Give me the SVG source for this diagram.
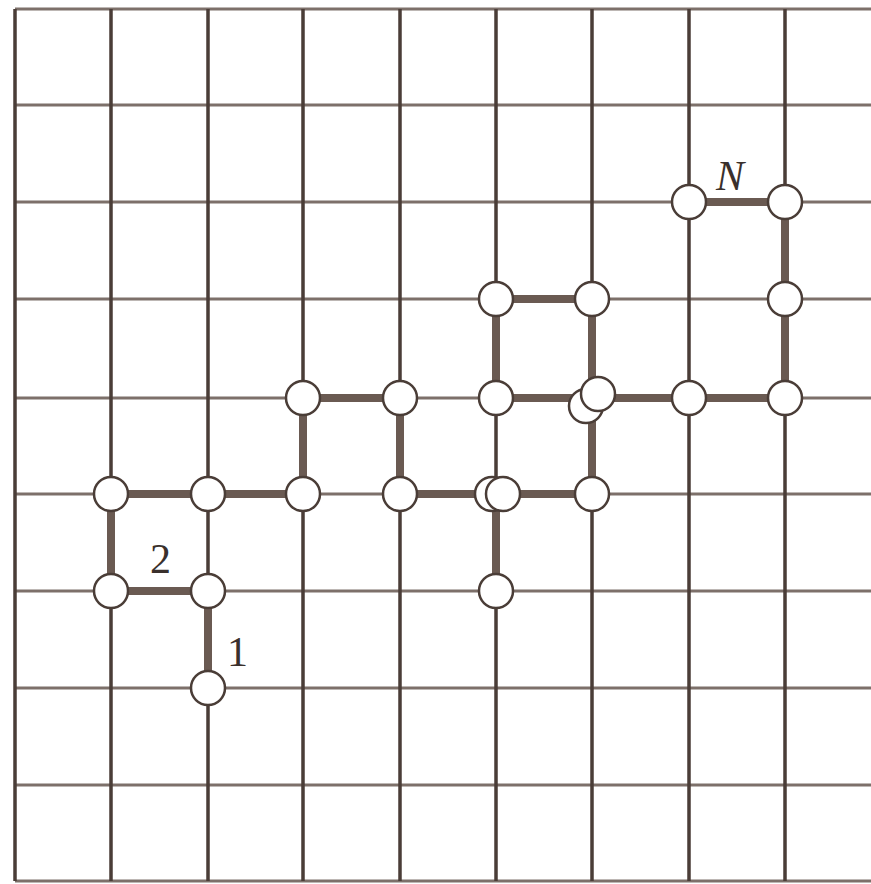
<svg xmlns="http://www.w3.org/2000/svg" width="871" height="884" viewBox="0 0 871 884">
<style>
.v{stroke:#4a3d37;stroke-width:3.5;fill:none}
.h{stroke:#7d706a;stroke-width:3;fill:none}
.e{stroke:#6a5a52;stroke-width:8;fill:none}
.n{fill:#fff;stroke:#4a3d37;stroke-width:2.5}
.t{font-family:"Liberation Serif",serif;font-size:42px;fill:#3a302c}
</style>
<rect width="871" height="884" fill="#fff"/>
<g id="grid">
<path class="h" d="M15 9H871M15 105H871M15 202H871M15 299H871M15 398H871M15 494H871M15 591H871M15 688H871M15 785H871M15 881H871"/>
<path class="v" d="M15 9V881M111 9V881M208 9V881M303 9V881M400 9V881M496 9V881M592 9V881M689 9V881M785 9V881"/>
</g>
<g id="connectors">
<path class="e" d="M208 591V688M111 591H208M111 494V591M111 494H303M303 494V398H400V494H496V591M496 494H592V398M496 398H689H785V202H689M496 398V299H592V398"/>
</g>
<g id="n1"><circle class="n" cx="208" cy="688" r="17"/></g>
<g id="n2"><circle class="n" cx="208" cy="591" r="17"/></g>
<g id="n3"><circle class="n" cx="111" cy="591" r="17"/></g>
<g id="n4"><circle class="n" cx="111" cy="494" r="17"/></g>
<g id="n5"><circle class="n" cx="208" cy="494" r="17"/></g>
<g id="n6"><circle class="n" cx="303" cy="494" r="17"/></g>
<g id="n7"><circle class="n" cx="303" cy="398" r="17"/></g>
<g id="n8"><circle class="n" cx="400" cy="398" r="17"/></g>
<g id="n9"><circle class="n" cx="400" cy="494" r="17"/></g>
<g id="n10"><circle class="n" cx="492" cy="494" r="17"/><circle class="n" cx="503" cy="494" r="17"/></g>
<g id="n11"><circle class="n" cx="496" cy="591" r="17"/></g>
<g id="n12"><circle class="n" cx="592" cy="494" r="17"/></g>
<g id="n13"><circle class="n" cx="496" cy="398" r="17"/></g>
<g id="n14"><circle class="n" cx="586" cy="406" r="17"/><circle class="n" cx="598" cy="394" r="17"/></g>
<g id="n15"><circle class="n" cx="496" cy="299" r="17"/></g>
<g id="n16"><circle class="n" cx="592" cy="299" r="17"/></g>
<g id="n17"><circle class="n" cx="689" cy="398" r="17"/></g>
<g id="n18"><circle class="n" cx="785" cy="398" r="17"/></g>
<g id="n19"><circle class="n" cx="785" cy="299" r="17"/></g>
<g id="n20"><circle class="n" cx="785" cy="202" r="17"/></g>
<g id="n21"><circle class="n" cx="689" cy="202" r="17"/></g>
<g id="labels">
<text class="t" x="150" y="573">2</text>
<text class="t" x="227" y="666">1</text>
<text class="t" x="716" y="190" font-style="italic">N</text>
</g>
</svg>
